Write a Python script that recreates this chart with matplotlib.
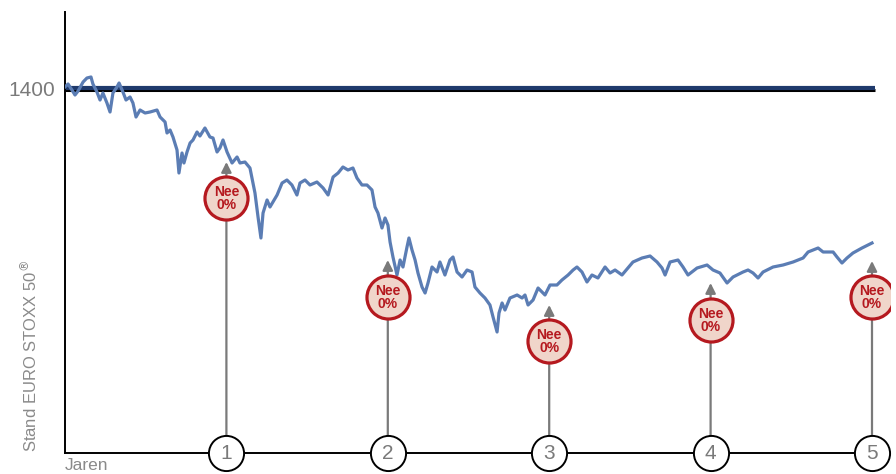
import matplotlib
matplotlib.use("Agg")
import matplotlib.pyplot as plt

plt.rcParams['font.family'] = ['Liberation Sans', 'DejaVu Sans']

# koersverloop (jaren, stand)
jaren = [0.000, 0.019, 0.043, 0.062, 0.081, 0.112, 0.136, 0.161, 0.173, 0.198,
         0.217, 0.235, 0.260, 0.279, 0.297, 0.322, 0.335, 0.359, 0.378, 0.403,
         0.421, 0.440, 0.465, 0.496, 0.527, 0.570, 0.589, 0.620, 0.632, 0.651,
         0.669, 0.694, 0.706, 0.725, 0.737, 0.756, 0.775, 0.793, 0.818, 0.836,
         0.867, 0.898, 0.917, 0.942, 0.960, 0.979, 1.004, 1.035, 1.066, 1.084,
         1.115, 1.146, 1.165, 1.177, 1.196, 1.214, 1.227, 1.252, 1.270, 1.314,
         1.345, 1.375, 1.406, 1.437, 1.456, 1.487, 1.518, 1.561, 1.599, 1.630,
         1.661, 1.692, 1.722, 1.753, 1.784, 1.809, 1.840, 1.871, 1.902, 1.921,
         1.939, 1.964, 1.983, 2.001, 2.014, 2.032, 2.057, 2.076, 2.094, 2.119,
         2.131, 2.150, 2.169, 2.187, 2.212, 2.231, 2.249, 2.274, 2.305, 2.323,
         2.354, 2.385, 2.404, 2.429, 2.460, 2.491, 2.522, 2.540, 2.571, 2.602,
         2.633, 2.652, 2.677, 2.689, 2.708, 2.726, 2.757, 2.801, 2.832, 2.850,
         2.869, 2.900, 2.931, 2.974, 3.005, 3.048, 3.079, 3.117, 3.148, 3.172,
         3.203, 3.234, 3.265, 3.302, 3.346, 3.377, 3.408, 3.451, 3.488, 3.519,
         3.575, 3.625, 3.668, 3.699, 3.718, 3.749, 3.798, 3.829, 3.860, 3.916,
         3.978, 4.015, 4.058, 4.102, 4.139, 4.201, 4.232, 4.263, 4.294, 4.325,
         4.387, 4.449, 4.511, 4.573, 4.604, 4.666, 4.697, 4.759, 4.783, 4.814,
         4.845, 4.882, 4.938, 4.975, 5.000]
stand = [1401.5, 1406, 1397, 1389.5, 1395.5, 1409, 1415, 1416.5, 1406, 1394,
         1382, 1392.5, 1377.5, 1364, 1392.5, 1401.5, 1407.5, 1394, 1382, 1386.5,
         1377.5, 1356.5, 1367, 1362.5, 1364, 1367, 1356.5, 1349, 1332.5, 1337,
         1326.5, 1307, 1272.5, 1302.5, 1287.5, 1304, 1317.5, 1322, 1334, 1328,
         1340, 1326.5, 1325, 1304, 1310, 1322, 1304, 1287.5, 1296.5, 1287.5,
         1289, 1280, 1257.5, 1242.5, 1206.5, 1175, 1212.5, 1232, 1221.5, 1239.5,
         1257.5, 1262, 1254.5, 1239.5, 1257.5, 1262, 1254.5, 1259, 1250, 1239.5,
         1266.5, 1272.5, 1281.5, 1277, 1280, 1265, 1254.5, 1254.5, 1247, 1221.5,
         1212.5, 1190, 1205, 1194.5, 1169, 1146.5, 1119.5, 1142, 1131.5, 1161.5,
         1175, 1157, 1142, 1122.5, 1101.5, 1092.5, 1107.5, 1131.5, 1124, 1139,
         1119.5, 1142, 1146.5, 1124, 1116.5, 1127, 1124, 1101.5, 1092.5, 1085,
         1074.5, 1056.5, 1034, 1062.5, 1077.5, 1067, 1085, 1089.5, 1085, 1089.5,
         1074.5, 1082, 1100, 1089.5, 1104.5, 1104.5, 1112, 1119.5, 1127, 1131.5,
         1124, 1109, 1119.5, 1115, 1131.5, 1122.5, 1127, 1119.5, 1130, 1139,
         1145, 1148, 1139, 1130, 1119.5, 1139, 1142, 1131.5, 1119.5, 1130,
         1134.5, 1127, 1122.5, 1107.5, 1116.5, 1124, 1127, 1122.5, 1115, 1124,
         1131.5, 1134.5, 1139, 1145, 1154, 1160, 1154, 1154, 1146.5, 1137.5,
         1145, 1152.5, 1160, 1164.5, 1167.5]

niveau = 1400
jaar_nummers = [1, 2, 3, 4, 5]
label_stand = [1235, 1086.5, 1020.5, 1052, 1086.5]   # midden "Nee 0%" cirkel
pijl_punt = [1289, 1142, 1074.5, 1107.5, 1140.5]
label_tekst = "Nee\n0%"

rood = '#b5191f'
grijs = '#7a7a7a'

fig = plt.figure(figsize=(8.96, 4.74), dpi=100)
ax = fig.add_axes([65/896, 21/474, 825/896, 441/474])
ax.set_xlim(0, 825/161.4)
ax.set_ylim(852.5, 1514)

# referentielijn 1400
ax.plot([0, 5.02], [niveau - 2.4, niveau - 2.4], color='black', lw=2.2,
        solid_capstyle='butt', zorder=2)
ax.plot([0, 5.02], [niveau + 0.6, niveau + 0.6], color='#1f3a6c', lw=3.0,
        solid_capstyle='butt', zorder=2)

# koers
ax.plot(jaren, stand, color='#5b7db4', lw=2.3, zorder=3)

for i, j in enumerate(jaar_nummers):
    ax.annotate('', xy=(j, pijl_punt[i]), xytext=(j, 860),
                arrowprops=dict(arrowstyle='-|>', color=grijs, lw=1.6,
                                mutation_scale=15, shrinkA=0, shrinkB=0),
                zorder=4)
    ax.scatter([j], [label_stand[i]], s=960, facecolor='#f0d5ca',
               edgecolor=rood, linewidth=2.3, zorder=5)
    ax.text(j, label_stand[i] - 1, label_tekst, ha='center', va='center',
            color=rood, fontsize=10, fontweight='bold', linespacing=0.92,
            zorder=6)
    ax.scatter([j], [852.5], s=640, facecolor='white', edgecolor='black',
               linewidth=1.4, zorder=5, clip_on=False)
    ax.text(j, 852.5, str(j), ha='center', va='center', color=grijs,
            fontsize=15, zorder=6, clip_on=False)

for s in ['top', 'right']:
    ax.spines[s].set_visible(False)
ax.spines['left'].set_linewidth(1.4)
ax.spines['bottom'].set_linewidth(1.4)
ax.spines['bottom'].set_bounds(0, 5.0)

ax.set_xticks([])
ax.set_yticks([niveau])
ax.set_yticklabels(['1400'], fontsize=15, color=grijs)
ax.tick_params(axis='y', length=0, pad=7)

fig.text(30/896, 22/474, 'Stand EURO STOXX 50$^{®}$', rotation=90,
         ha='center', va='bottom', fontsize=12, color='#8a8a8a')
fig.text(65/896, 8/474, 'Jaren', ha='left', va='center', fontsize=12.5,
         color='#8a8a8a')

plt.savefig('out.png', dpi=100)
